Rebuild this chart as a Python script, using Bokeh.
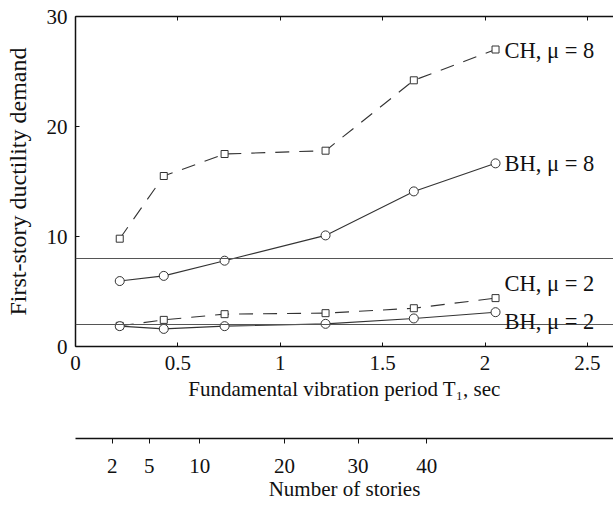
from bokeh.plotting import figure
from bokeh.models import (Range1d, LinearAxis, FixedTicker, CustomJSTickFormatter,
                          CustomLabelingPolicy, Span, Label)
from bokeh.layouts import column
from bokeh.embed import file_html
from bokeh.resources import INLINE

# ---- data ----
periods = [0.216, 0.431, 0.728, 1.221, 1.652, 2.051]
ch_mu8 = [9.8, 15.5, 17.5, 17.8, 24.2, 27.0]
bh_mu8 = [5.95, 6.42, 7.8, 10.1, 14.1, 16.65]
ch_mu2 = [1.88, 2.42, 2.94, 3.03, 3.48, 4.4]
bh_mu2 = [1.85, 1.6, 1.85, 2.06, 2.55, 3.12]
mu_levels = [8, 2]
series_labels = ["CH, μ = 8", "BH, μ = 8", "CH, μ = 2", "BH, μ = 2"]
x_ticks = [0, 0.5, 1, 1.5, 2, 2.5]
y_ticks = [0, 10, 20, 30]
stories = [2, 5, 10, 20, 30, 40]
story_tick_pos = [0.130, 0.314, 0.565, 0.988, 1.354, 1.696]

FONT = "Liberation Serif"
LC = "#333333"
AC = "#111111"

p1 = figure(width=613, height=406, x_range=Range1d(0, 2.627), y_range=Range1d(0, 30),
            output_backend="svg", toolbar_location=None,
            min_border_left=75, min_border_right=0, min_border_top=16, min_border_bottom=60)
p1.outline_line_color = None
p1.xgrid.visible = False
p1.ygrid.visible = False

for ax in (p1.xaxis[0], p1.yaxis[0]):
    ax.major_tick_in = 4
    ax.major_tick_out = 0
    ax.minor_tick_in = 0
    ax.minor_tick_out = 0
    ax.axis_line_width = 1.5
    ax.axis_line_color = AC
    ax.major_tick_line_color = AC
    ax.major_label_text_font = FONT
    ax.major_label_text_font_size = "21px"
    ax.major_label_text_color = AC
    ax.axis_label_text_font = FONT
    ax.axis_label_text_font_style = "normal"
    ax.axis_label_text_color = AC

p1.xaxis.ticker = FixedTicker(ticks=x_ticks)
p1.xaxis.formatter = CustomJSTickFormatter(code="return String(tick);")
p1.xaxis.axis_label = "Fundamental vibration period T₁, sec"
p1.xaxis.axis_label_text_font_size = "21px"
p1.xaxis.major_label_standoff = 9
p1.xaxis.axis_label_standoff = 4

p1.yaxis.ticker = FixedTicker(ticks=y_ticks)
p1.yaxis.axis_label = "First-story ductility demand"
p1.yaxis.axis_label_text_font_size = "24px"
p1.yaxis.major_label_standoff = 8
p1.yaxis.axis_label_standoff = 13

no_labels = CustomLabelingPolicy(code="""
try { const idx = [...indices]; for (const i of idx) indices.unset(i); } catch (e) {}
return indices;
""")
top = LinearAxis(ticker=FixedTicker(ticks=x_ticks), major_label_policy=no_labels,
                 major_label_text_font_size="1px",
                 major_label_standoff=0, major_tick_in=4, major_tick_out=0,
                 minor_tick_in=0, minor_tick_out=0, axis_line_width=1.5,
                 axis_line_color=AC, major_tick_line_color=AC)
p1.add_layout(top, "above")

for lvl in mu_levels:
    p1.add_layout(Span(location=lvl, dimension="width", line_color="#555555", line_width=1))

dash = "14 10"
p1.line(periods, ch_mu8, line_color=LC, line_width=1.1, line_dash=dash)
p1.scatter(periods, ch_mu8, marker="square", size=7, line_color=LC, fill_color="white")
p1.line(periods, bh_mu8, line_color=LC, line_width=1.1)
p1.scatter(periods, bh_mu8, marker="circle", size=9, line_color=LC, fill_color="white")
p1.line(periods, ch_mu2, line_color=LC, line_width=1.1, line_dash=dash)
p1.scatter(periods, ch_mu2, marker="square", size=7, line_color=LC, fill_color="white")
p1.line(periods, bh_mu2, line_color=LC, line_width=1.1)
p1.scatter(periods, bh_mu2, marker="circle", size=9, line_color=LC, fill_color="white")

last_vals = [ch_mu8[-1], bh_mu8[-1], ch_mu2[-1], bh_mu2[-1]]
y_offs = [-1, 0, 15, -9]
for txt, yv, yo in zip(series_labels, last_vals, y_offs):
    p1.add_layout(Label(x=periods[-1], y=yv, x_offset=9, y_offset=yo, text=txt,
                        text_font=FONT, text_font_size="22.5px", text_color=AC,
                        text_baseline="middle", text_align="left"))

p2 = figure(width=613, height=99, x_range=Range1d(-0.0537, 2.627), y_range=Range1d(0, 1),
            output_backend="svg", toolbar_location=None, y_axis_location=None,
            min_border_left=64, min_border_right=0, min_border_top=0, min_border_bottom=67)
p2.outline_line_color = None
p2.xgrid.visible = False
p2.ygrid.visible = False
sx = p2.xaxis[0]
sx.ticker = FixedTicker(ticks=story_tick_pos)
sx.formatter = CustomJSTickFormatter(
    args=dict(pos=story_tick_pos, lab=[str(s) for s in stories]),
    code="""
let best = 0;
for (let i = 0; i < pos.length; i++) {
  if (Math.abs(pos[i] - tick) < Math.abs(pos[best] - tick)) best = i;
}
return lab[best];
""")
sx.major_tick_in = 0
sx.major_tick_out = 5
sx.minor_tick_in = 0
sx.minor_tick_out = 0
sx.axis_line_width = 1.5
sx.axis_line_color = AC
sx.major_tick_line_color = AC
sx.major_label_text_font = FONT
sx.major_label_text_font_size = "21px"
sx.major_label_text_color = AC
sx.major_label_standoff = 15
sx.axis_label = "Number of stories"
sx.axis_label_text_font = FONT
sx.axis_label_text_font_size = "21px"
sx.axis_label_text_font_style = "normal"
sx.axis_label_text_color = AC
sx.axis_label_standoff = 1

layout = column(p1, p2)
open("out.html", "w").write(file_html(layout, INLINE))
